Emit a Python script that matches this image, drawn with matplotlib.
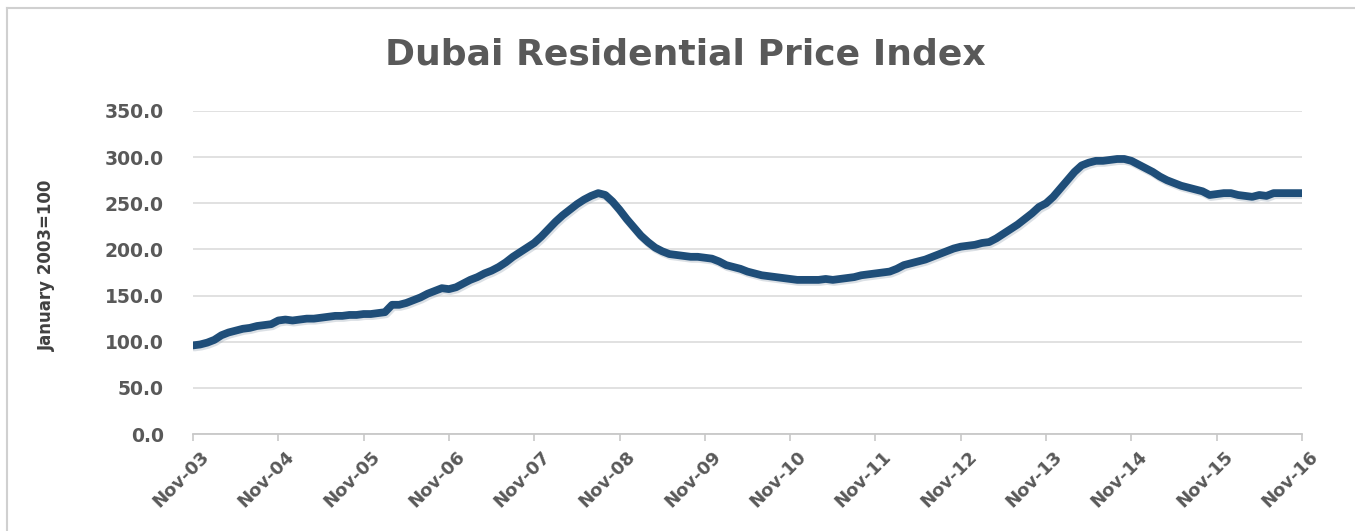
import numpy as np
import matplotlib
matplotlib.use("Agg")
import matplotlib.pyplot as plt
import matplotlib.patheffects as pe
import matplotlib.transforms as mtransforms
from matplotlib.lines import Line2D

# monthly index, Nov-03 .. Nov-16 (January 2003 = 100), one row per Nov..Oct year
index_values = [
    96, 97, 99, 102, 107, 110, 112, 114, 115, 117, 118, 119,
    123, 124, 123, 124, 125, 125, 126, 127, 128, 128, 129, 129,
    130, 130, 131, 132, 140, 140, 142, 145, 148, 152, 155, 158,
    157, 159, 163, 167, 170, 174, 177, 181, 186, 192, 197, 202,
    207, 214, 222, 230, 237, 243, 249, 254, 258, 261, 259, 252,
    243, 233, 224, 215, 208, 202, 198, 195, 194, 193, 192, 192,
    191, 190, 187, 183, 181, 179, 176, 174, 172, 171, 170, 169,
    168, 167, 167, 167, 167, 168, 167, 168, 169, 170, 172, 173,
    174, 175, 176, 179, 183, 185, 187, 189, 192, 195, 198, 201,
    203, 204, 205, 207, 208, 212, 217, 222, 227, 233, 239, 246,
    250, 257, 266, 275, 284, 291, 294, 296, 296, 297, 298, 298,
    296, 292, 288, 284, 279, 275, 272, 269, 267, 265, 263, 259,
    260, 261, 261, 259, 258, 257, 259, 258, 261, 261, 261, 261,
    261,
]
tick_labels = ["Nov-%02d" % y for y in range(3, 17)]
y_ticks = [0, 50, 100, 150, 200, 250, 300, 350]

months = np.arange(len(index_values))

fig = plt.figure(figsize=(13.55, 5.31), dpi=100)
ax = fig.add_axes([193 / 1355, 1 - 434 / 531, (1302 - 193) / 1355, (434 - 111) / 531])

txt = "#595959"
ax.plot(months, index_values, color="#1F4E79", lw=5.6, solid_capstyle="round",
        solid_joinstyle="round",
        path_effects=[pe.SimpleLineShadow(offset=(1, -1.5), shadow_color="#9aa7b5", alpha=0.35),
                      pe.Normal()], zorder=3)

ax.set_xlim(0, 156)
ax.set_ylim(0, 350)
ax.set_yticks(y_ticks)
ax.set_yticklabels(["%.1f" % v for v in y_ticks])
ax.set_xticks(np.arange(0, 157, 12))
ax.set_xticklabels(tick_labels, rotation=45, ha="right", rotation_mode="anchor")

ax.grid(axis="y", color="#d9d9d9", lw=1.1)
ax.set_axisbelow(True)
for s in ["top", "right", "left"]:
    ax.spines[s].set_visible(False)
ax.spines["bottom"].set_color("#c8c8c8")
ax.spines["bottom"].set_linewidth(1.3)
ax.tick_params(axis="y", length=0, pad=21, labelsize=13.5, labelcolor=txt)
ax.tick_params(axis="x", length=5, width=1.2, color="#c8c8c8", pad=5, labelsize=13, labelcolor=txt)
for lab in ax.get_yticklabels() + ax.get_xticklabels():
    lab.set_fontfamily("DejaVu Sans")
    lab.set_fontweight("bold")
shift = mtransforms.ScaledTranslation(7 / 100, 0, fig.dpi_scale_trans)
for lab in ax.get_xticklabels():
    lab.set_transform(lab.get_transform() + shift)

fig.text(0.506, 0.897, "Dubai Residential Price Index", ha="center", va="center",
         fontsize=26, fontweight="bold", color=txt, family="DejaVu Sans")
fig.text(0.035, 0.5, "January 2003=100", rotation=90, ha="center", va="center",
         fontsize=12, fontweight="bold", color="#404040",
         family=["Liberation Sans Narrow", "DejaVu Sans"])

# chart frame, top and left edges visible
fig.add_artist(Line2D([7 / 1355, 1], [1 - 7.5 / 531] * 2, transform=fig.transFigure, color="#d0d0d0", lw=1.5))
fig.add_artist(Line2D([7.5 / 1355] * 2, [0, 1 - 7.5 / 531], transform=fig.transFigure, color="#d0d0d0", lw=1.5))

fig.savefig("out.png", dpi=100, facecolor="white")
